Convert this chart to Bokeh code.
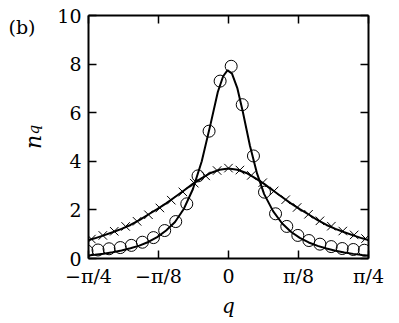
import math
from bokeh.plotting import figure
from bokeh.models import Range1d, FixedTicker, LinearAxis, ColumnDataSource
from bokeh.embed import file_html
from bokeh.resources import INLINE

PI = math.pi

# ---------------- data ----------------
x_ticks = [-PI / 4, -PI / 8, 0.0, PI / 8, PI / 4]
x_tick_labels = ["\u2212\u03c0/4", "\u2212\u03c0/8", "0", "\u03c0/8", "\u03c0/4"]
y_ticks = [0, 2, 4, 6, 8, 10]

# circles (narrow distribution)
circ_q = [-0.794, -0.732, -0.670, -0.607, -0.545, -0.483, -0.421, -0.358, -0.296,
          -0.234, -0.171, -0.109, -0.047, 0.015, 0.077, 0.140, 0.202, 0.264,
          0.327, 0.389, 0.451, 0.513, 0.576, 0.638, 0.700, 0.762]
circ_n = [0.31, 0.35, 0.40, 0.45, 0.54, 0.67, 0.86, 1.15, 1.52,
          2.25, 3.40, 5.24, 7.30, 7.91, 6.33, 4.22, 2.73, 1.84,
          1.32, 0.95, 0.74, 0.59, 0.49, 0.41, 0.37, 0.34]

# crosses (broad distribution)
cross_q = [-0.769, -0.705, -0.641, -0.577, -0.513, -0.449, -0.385, -0.321, -0.256,
           -0.192, -0.128, -0.064, 0.000, 0.064, 0.128, 0.192, 0.256, 0.321,
           0.385, 0.449, 0.513, 0.577, 0.641, 0.705, 0.769]
cross_n = [0.80, 0.95, 1.12, 1.32, 1.53, 1.80, 2.08, 2.40, 2.74,
           3.10, 3.40, 3.62, 3.72, 3.64, 3.42, 3.12, 2.78, 2.42,
           2.10, 1.82, 1.55, 1.33, 1.13, 0.97, 0.82]

# solid curve through the circles
line1_q = [-0.80, -0.75, -0.70, -0.65, -0.60, -0.55, -0.50, -0.45, -0.40, -0.35,
           -0.30, -0.25, -0.20, -0.15, -0.10, -0.06, -0.03, -0.005, 0.02, 0.05,
           0.08, 0.12, 0.16, 0.20, 0.25, 0.30, 0.35, 0.40, 0.45, 0.50,
           0.55, 0.60, 0.65, 0.70, 0.75, 0.80]
line1_n = [0.11, 0.15, 0.20, 0.26, 0.33, 0.42, 0.53, 0.68, 0.88, 1.15,
           1.50, 2.05, 2.85, 4.00, 5.55, 6.85, 7.50, 7.75, 7.60, 7.00,
           6.05, 4.65, 3.50, 2.65, 1.95, 1.45, 1.10, 0.85, 0.66, 0.52,
           0.41, 0.32, 0.25, 0.19, 0.14, 0.11]

# solid curve through the crosses
line2_q = [-0.80, -0.75, -0.70, -0.65, -0.60, -0.55, -0.50, -0.45, -0.40, -0.35,
           -0.30, -0.25, -0.20, -0.15, -0.10, -0.05, 0.0, 0.05, 0.10, 0.15,
           0.20, 0.25, 0.30, 0.35, 0.40, 0.45, 0.50, 0.55, 0.60, 0.65,
           0.70, 0.75, 0.80]
line2_n = [0.73, 0.83, 0.95, 1.08, 1.22, 1.38, 1.58, 1.81, 2.03, 2.27,
           2.53, 2.80, 3.07, 3.31, 3.52, 3.65, 3.70, 3.65, 3.52, 3.31,
           3.07, 2.80, 2.53, 2.27, 2.03, 1.81, 1.58, 1.38, 1.22, 1.08,
           0.95, 0.83, 0.73]

# ---------------- figure ----------------
FONT = "DejaVu Serif"
TICK_FS = "19px"

p = figure(width=399, height=323,
           x_range=Range1d(-PI / 4, PI / 4), y_range=Range1d(0, 10),
           output_backend="svg", toolbar_location=None,
           x_axis_location=None, y_axis_location=None,
           min_border_left=88, min_border_right=31,
           min_border_top=15, min_border_bottom=65)
p.xgrid.visible = False
p.ygrid.visible = False
p.outline_line_color = None
p.background_fill_color = "white"
p.border_fill_color = "white"

xt = FixedTicker(ticks=x_ticks)
yt = FixedTicker(ticks=y_ticks)
overrides = {t: l for t, l in zip(x_ticks, x_tick_labels)}


def style(ax):
    ax.axis_line_width = 2
    ax.axis_line_color = "black"
    ax.major_tick_in = 8
    ax.major_tick_out = 0
    ax.major_tick_line_width = 1.5
    ax.minor_tick_line_color = None
    ax.major_label_text_font = FONT
    ax.major_label_text_font_size = TICK_FS
    ax.major_label_text_color = "black"


bottom = LinearAxis(ticker=xt, major_label_overrides=overrides)
style(bottom)
bottom.major_label_standoff = 6
bottom.axis_label = "q"
bottom.axis_label_text_font = FONT
bottom.axis_label_text_font_style = "italic"
bottom.axis_label_text_font_size = "20px"
bottom.axis_label_text_color = "black"
bottom.axis_label_standoff = 4

left = LinearAxis(ticker=yt)
style(left)
left.major_label_standoff = 7

top = LinearAxis(ticker=xt, major_label_overrides={t: "" for t in x_ticks})
style(top)
top.major_label_standoff = 0
right = LinearAxis(ticker=yt, major_label_overrides={t: "" for t in y_ticks})
style(right)
right.major_label_standoff = 0

p.add_layout(bottom, "below")
p.add_layout(left, "left")
p.add_layout(top, "above")
p.add_layout(right, "right")


# side-panel helper axes (no line, no ticks) carrying one text each:
# the subscript q, the n of the y label, and the panel letter
def text_axis(n_pos, text, size, style_, orient, standoff):
    ax = LinearAxis(ticker=FixedTicker(ticks=[n_pos]),
                    major_label_overrides={n_pos: text})
    ax.axis_line_color = None
    ax.major_tick_line_color = None
    ax.major_tick_in = 0
    ax.major_tick_out = 0
    ax.minor_tick_line_color = None
    ax.minor_tick_in = 0
    ax.minor_tick_out = 0
    ax.major_label_standoff = standoff
    ax.major_label_text_font = FONT
    ax.major_label_text_font_size = size
    ax.major_label_text_font_style = style_
    ax.major_label_text_color = "black"
    ax.major_label_orientation = orient
    return ax


p.add_layout(text_axis(5.30, "q", "15px", "italic", "vertical", 11), "left")
p.add_layout(text_axis(4.80, "n", "22px", "italic", "vertical", -24), "left")
p.add_layout(text_axis(9.53, "(b)", "19px", "normal", "horizontal", -17), "left")

src_c = ColumnDataSource(dict(q=circ_q, n=circ_n))
src_x = ColumnDataSource(dict(q=cross_q, n=cross_n))
src_l1 = ColumnDataSource(dict(q=line1_q, n=line1_n))
src_l2 = ColumnDataSource(dict(q=line2_q, n=line2_n))

p.line("q", "n", source=src_l1, line_color="black", line_width=2)
p.line("q", "n", source=src_l2, line_color="black", line_width=2)
p.scatter("q", "n", source=src_c, marker="circle", size=12,
          fill_color=None, line_color="black", line_width=1)
p.scatter("q", "n", source=src_x, marker="x", size=12,
          line_color="black", line_width=1)

open("out.html", "w").write(file_html(p, INLINE))
